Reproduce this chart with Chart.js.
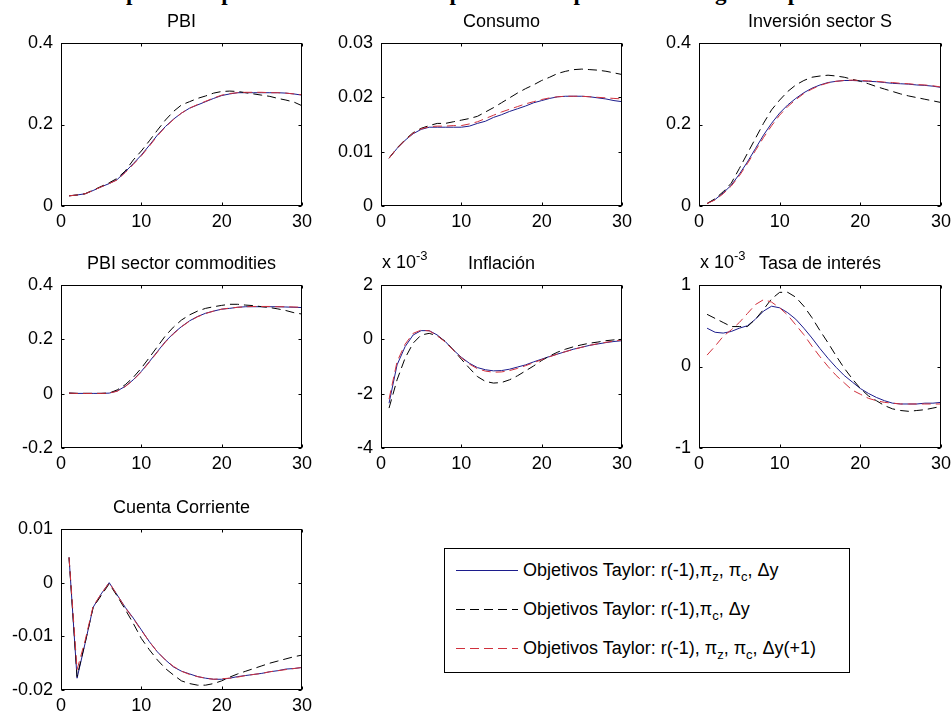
<!DOCTYPE html>
<html lang="es">
<head>
<meta charset="UTF-8">
<title>Respuesta impulso: reglas de Taylor</title>
<script src="https://cdn.jsdelivr.net/npm/chart.js"></script>
<style>
  body {
    margin: 0;
    width: 951px;
    height: 718px;
    overflow: hidden;
    background: #fff;
    position: relative;
    font-family: 'Liberation Sans', Arial, sans-serif;
  }
  canvas { position: absolute; }
  #supertitulo {
    position: absolute;
    left: 0;
    top: -20px;
    width: 951px;
    text-align: center;
    font: bold 23px/26px 'Liberation Serif', 'Times New Roman', serif;
    white-space: nowrap;
  }
  #leyenda {
    position: absolute;
    left: 444px;
    top: 548px;
    width: 406px;
    height: 125px;
    box-sizing: border-box;
    border: 1px solid #000;
    background: #fff;
  }
  .fila {
    position: absolute;
    left: 10px;
    height: 24px;
    font-size: 18px;
    line-height: 24px;
    white-space: nowrap;
  }
  .fila svg { position: absolute; left: 0; top: 7px; }
  .fila span { position: absolute; left: 68px; top: 0; }
  .fila sub { font-size: 13px; vertical-align: -5px; line-height: 0; }
</style>
</head>
<body>
<div id="supertitulo">Respuesta impulso ante un shock de precios: comparación de reglas de política</div>
<div id="leyenda"></div>

<script>
// periodos (eje x) y ticks del eje x
const periodos = [1,2,3,4,5,6,7,8,9,10,11,12,13,14,15,16,17,18,19,20,21,22,23,24,25,26,27,28,29,30];
const ticksX = [0, 10, 20, 30];

// series: 1 = r(-1),pi_z,pi_c,dy (azul) ; 2 = r(-1),pi_c,dy (negra) ; 3 = r(-1),pi_z,pi_c,dy(+1) (roja)
const pbi1 = [0.025,0.027,0.030,0.038,0.047,0.055,0.065,0.084,0.104,0.125,0.149,0.174,0.195,0.213,0.228,0.240,0.248,0.256,0.264,0.271,0.275,0.278,0.278,0.278,0.278,0.278,0.278,0.277,0.275,0.272];
const pbi2 = [0.025,0.027,0.030,0.039,0.048,0.057,0.068,0.086,0.113,0.135,0.160,0.186,0.211,0.232,0.248,0.256,0.264,0.270,0.277,0.281,0.282,0.281,0.278,0.275,0.272,0.269,0.264,0.260,0.255,0.246];
const pbi3 = [0.025,0.027,0.030,0.038,0.047,0.055,0.064,0.082,0.102,0.123,0.147,0.172,0.194,0.212,0.228,0.240,0.249,0.257,0.265,0.272,0.276,0.278,0.279,0.279,0.279,0.278,0.278,0.277,0.275,0.273];

const consumo1 = [0.0088,0.0106,0.0121,0.0133,0.0141,0.0145,0.0145,0.0145,0.0145,0.0145,0.0147,0.0152,0.0156,0.0163,0.0168,0.0174,0.0179,0.0184,0.0190,0.0194,0.0198,0.0201,0.0202,0.0202,0.0202,0.0201,0.0199,0.0197,0.0194,0.0192];
const consumo2 = [0.0088,0.0107,0.0122,0.0135,0.0143,0.0148,0.0152,0.0152,0.0155,0.0158,0.0161,0.0165,0.0173,0.0181,0.0190,0.0199,0.0208,0.0216,0.0223,0.0231,0.0237,0.0244,0.0248,0.0251,0.0252,0.0251,0.0250,0.0248,0.0245,0.0242];
const consumo3 = [0.0088,0.0106,0.0121,0.0134,0.0142,0.0146,0.0147,0.0147,0.0148,0.0148,0.0151,0.0155,0.0161,0.0167,0.0173,0.0178,0.0183,0.0188,0.0192,0.0196,0.0199,0.0201,0.0202,0.0202,0.0202,0.0201,0.0200,0.0199,0.0198,0.0197];

const inversion1 = [0.006,0.016,0.032,0.051,0.078,0.108,0.141,0.174,0.203,0.228,0.248,0.264,0.278,0.289,0.297,0.303,0.306,0.308,0.308,0.307,0.306,0.305,0.303,0.301,0.300,0.299,0.297,0.296,0.294,0.291];
const inversion2 = [0.006,0.018,0.035,0.056,0.092,0.129,0.166,0.203,0.236,0.260,0.281,0.297,0.308,0.316,0.319,0.321,0.319,0.316,0.311,0.306,0.300,0.293,0.287,0.281,0.275,0.270,0.266,0.262,0.258,0.254];
const inversion3 = [0.006,0.015,0.030,0.049,0.074,0.104,0.136,0.168,0.197,0.223,0.244,0.261,0.276,0.287,0.296,0.302,0.306,0.308,0.309,0.308,0.307,0.306,0.304,0.303,0.301,0.300,0.298,0.297,0.295,0.292];

const commod1 = [0.002,0.001,0.001,0.001,0.001,0.002,0.010,0.027,0.051,0.082,0.118,0.155,0.192,0.222,0.247,0.268,0.284,0.296,0.304,0.311,0.314,0.318,0.320,0.320,0.320,0.320,0.320,0.319,0.318,0.317];
const commod2 = [0.002,0.001,0.001,0.001,0.001,0.002,0.014,0.033,0.060,0.094,0.133,0.173,0.213,0.245,0.271,0.290,0.304,0.314,0.320,0.325,0.329,0.329,0.326,0.324,0.320,0.317,0.312,0.306,0.298,0.293];
const commod3 = [0.002,0.001,0.001,0.001,0.001,0.002,0.009,0.026,0.050,0.080,0.116,0.153,0.190,0.220,0.246,0.267,0.283,0.295,0.304,0.311,0.315,0.318,0.320,0.321,0.321,0.321,0.320,0.320,0.319,0.318];

// inflación y tasa de interés en unidades de 10^-3
const inflacion1 = [-2.35,-0.94,-0.27,0.16,0.32,0.32,0.16,-0.08,-0.39,-0.66,-0.88,-1.04,-1.12,-1.16,-1.15,-1.10,-1.02,-0.94,-0.83,-0.73,-0.63,-0.54,-0.45,-0.36,-0.29,-0.22,-0.17,-0.12,-0.08,-0.05];
const inflacion2 = [-2.53,-1.49,-0.69,-0.14,0.16,0.22,0.13,-0.08,-0.39,-0.73,-1.06,-1.37,-1.55,-1.61,-1.59,-1.49,-1.34,-1.16,-0.98,-0.78,-0.61,-0.47,-0.36,-0.27,-0.20,-0.14,-0.10,-0.05,-0.02,0.00];
const inflacion3 = [-2.20,-0.82,-0.18,0.22,0.34,0.31,0.14,-0.10,-0.40,-0.68,-0.91,-1.08,-1.17,-1.21,-1.20,-1.15,-1.07,-0.97,-0.86,-0.75,-0.64,-0.54,-0.45,-0.37,-0.29,-0.22,-0.16,-0.11,-0.06,-0.02];

const tasa1 = [0.47,0.42,0.41,0.43,0.47,0.50,0.58,0.68,0.74,0.72,0.66,0.58,0.47,0.35,0.22,0.10,-0.01,-0.11,-0.19,-0.27,-0.33,-0.38,-0.42,-0.45,-0.46,-0.46,-0.46,-0.45,-0.45,-0.44];
const tasa2 = [0.64,0.59,0.54,0.49,0.49,0.49,0.58,0.70,0.83,0.91,0.91,0.85,0.74,0.60,0.44,0.29,0.13,-0.02,-0.15,-0.27,-0.36,-0.42,-0.48,-0.52,-0.54,-0.55,-0.54,-0.53,-0.51,-0.49];
const tasa3 = [0.14,0.25,0.37,0.45,0.54,0.65,0.76,0.82,0.79,0.72,0.63,0.51,0.39,0.25,0.12,0.00,-0.11,-0.20,-0.29,-0.34,-0.39,-0.42,-0.44,-0.45,-0.46,-0.46,-0.46,-0.46,-0.46,-0.46];

const cuenta1 = [0.0047,-0.0178,-0.0113,-0.0046,-0.0021,0.0000,-0.0023,-0.0046,-0.0066,-0.0088,-0.0110,-0.0129,-0.0144,-0.0157,-0.0165,-0.0170,-0.0175,-0.0178,-0.0180,-0.0180,-0.0178,-0.0175,-0.0173,-0.0171,-0.0169,-0.0166,-0.0164,-0.0161,-0.0160,-0.0158];
const cuenta2 = [0.0047,-0.0175,-0.0112,-0.0046,-0.0024,-0.0002,-0.0025,-0.0050,-0.0076,-0.0104,-0.0125,-0.0144,-0.0160,-0.0172,-0.0183,-0.0188,-0.0191,-0.0191,-0.0188,-0.0183,-0.0176,-0.0170,-0.0165,-0.0160,-0.0155,-0.0150,-0.0146,-0.0142,-0.0138,-0.0135];
const cuenta3 = [0.0047,-0.0162,-0.0108,-0.0044,-0.0021,0.0000,-0.0023,-0.0047,-0.0067,-0.0089,-0.0110,-0.0129,-0.0144,-0.0156,-0.0165,-0.0171,-0.0175,-0.0178,-0.0180,-0.0179,-0.0178,-0.0176,-0.0173,-0.0171,-0.0169,-0.0166,-0.0164,-0.0162,-0.0160,-0.0158];

// nombres y estilos de las series
const nombresSeries = [
  'Objetivos Taylor: r(-1),π<sub>z</sub>, π<sub>c</sub>, Δy',
  'Objetivos Taylor: r(-1),π<sub>c</sub>, Δy',
  'Objetivos Taylor: r(-1), π<sub>z</sub>, π<sub>c</sub>, Δy(+1)'
];
const coloresSeries = ['#1c1c8c', '#000000', '#d0303c'];
const trazosSeries = [[], [9, 5], [9, 5]];

// paneles: titulo, series, rango y del eje
const paneles = [
  { titulo: 'PBI', series: [pbi1, pbi2, pbi3], min: 0, max: 0.4, paso: 0.2, caja: [61, 43, 303, 206] },
  { titulo: 'Consumo', series: [consumo1, consumo2, consumo3], min: 0, max: 0.03, paso: 0.01, caja: [381, 43, 623, 206] },
  { titulo: 'Inversión sector S', series: [inversion1, inversion2, inversion3], min: 0, max: 0.4, paso: 0.2, caja: [699, 43, 942, 206] },
  { titulo: 'PBI sector commodities', series: [commod1, commod2, commod3], min: -0.2, max: 0.4, paso: 0.2, caja: [61, 285, 303, 448] },
  { titulo: 'Inflación', series: [inflacion1, inflacion2, inflacion3], min: -4, max: 2, paso: 2, caja: [381, 285, 623, 448], exponente: '-3' },
  { titulo: 'Tasa de interés', series: [tasa1, tasa2, tasa3], min: -1, max: 1, paso: 1, caja: [699, 285, 942, 448], exponente: '-3' },
  { titulo: 'Cuenta Corriente', series: [cuenta1, cuenta2, cuenta3], min: -0.02, max: 0.01, paso: 0.01, caja: [61, 529, 303, 690] }
];

const fuente = "'Liberation Sans', Arial, sans-serif";
const margenIzq = 64, margenSup = 34, margenDer = 14, margenInf = 32;

// marco de ejes estilo matlab: caja completa, ticks hacia adentro, titulo y exponente
const marcoMatlab = {
  id: 'marcoMatlab',
  afterDraw(chart, args, opts) {
    const ctx = chart.ctx;
    const a = chart.chartArea;
    const sx = chart.scales.x, sy = chart.scales.y;
    const L = Math.round(a.left) + 0.5, R = Math.round(a.right) - 0.5;
    const T = Math.round(a.top) + 0.5, B = Math.round(a.bottom) - 0.5;
    ctx.save();
    ctx.strokeStyle = '#000';
    ctx.lineWidth = 1;
    ctx.strokeRect(L, T, R - L, B - T);
    ctx.beginPath();
    sx.ticks.forEach(t => {
      const px = Math.round(sx.getPixelForValue(t.value)) + 0.5;
      ctx.moveTo(px, B); ctx.lineTo(px, B - 3);
      ctx.moveTo(px, T); ctx.lineTo(px, T + 3);
    });
    sy.ticks.forEach(t => {
      const py = Math.round(sy.getPixelForValue(t.value)) + 0.5;
      ctx.moveTo(L, py); ctx.lineTo(L + 3, py);
      ctx.moveTo(R, py); ctx.lineTo(R - 3, py);
    });
    ctx.stroke();

    ctx.fillStyle = '#000';
    ctx.textBaseline = 'alphabetic';
    ctx.font = '18px ' + fuente;
    ctx.textAlign = 'center';
    ctx.fillText(opts.titulo, (a.left + a.right) / 2, a.top - 16);
    if (opts.exponente) {
      ctx.textAlign = 'left';
      const base = 'x 10';
      ctx.fillText(base, a.left + 1, a.top - 17);
      const w = ctx.measureText(base).width;
      ctx.font = '13px ' + fuente;
      ctx.fillText(opts.exponente, a.left + 1 + w, a.top - 25);
    }
    ctx.restore();
  }
};

function formatoTick(v) {
  return String(+v.toFixed(4));
}

paneles.forEach((p, k) => {
  const [l, t, r, b] = p.caja;
  const canvas = document.createElement('canvas');
  canvas.width = (r - l) + margenIzq + margenDer;
  canvas.height = (b - t) + margenSup + margenInf;
  canvas.style.left = (l - margenIzq) + 'px';
  canvas.style.top = (t - margenSup) + 'px';
  document.body.appendChild(canvas);

  const datasets = p.series.map((serie, i) => ({
    label: nombresSeries[i],
    data: serie.map((v, j) => ({ x: periodos[j], y: v })),
    borderColor: coloresSeries[i],
    borderDash: trazosSeries[i],
    borderWidth: 1,
    pointRadius: 0,
    fill: false,
    tension: 0,
    order: 3 - i
  }));

  new Chart(canvas, {
    type: 'line',
    data: { datasets: datasets },
    options: {
      responsive: false,
      animation: false,
      layout: { padding: { top: margenSup, right: margenDer, left: 0, bottom: 0 } },
      plugins: {
        legend: { display: false },
        tooltip: { enabled: false },
        marcoMatlab: { titulo: p.titulo, exponente: p.exponente }
      },
      scales: {
        x: {
          type: 'linear',
          min: 0, max: 30,
          afterBuildTicks: s => { s.ticks = ticksX.map(v => ({ value: v })); },
          afterFit: s => { s.height = margenInf; },
          grid: { display: false, drawTicks: false },
          border: { display: false },
          ticks: { color: '#000', padding: 5, maxRotation: 0, font: { family: fuente, size: 18 } }
        },
        y: {
          min: p.min, max: p.max,
          afterFit: s => { s.width = margenIzq; },
          grid: { display: false, drawTicks: false },
          border: { display: false },
          ticks: { color: '#000', padding: 8, stepSize: p.paso, callback: formatoTick, font: { family: fuente, size: 18 } }
        }
      }
    },
    plugins: [marcoMatlab]
  });
});

// leyenda construida con los mismos nombres y estilos
const leyenda = document.getElementById('leyenda');
nombresSeries.forEach((nombre, i) => {
  const fila = document.createElement('div');
  fila.className = 'fila';
  fila.style.top = (9 + i * 39) + 'px';
  const dash = trazosSeries[i].length ? trazosSeries[i].join(' ') : 'none';
  fila.innerHTML =
    '<svg width="64" height="10"><line x1="1" y1="5.5" x2="63" y2="5.5" stroke="' + coloresSeries[i] +
    '" stroke-width="1" stroke-dasharray="' + dash + '"/></svg><span>' + nombre + '</span>';
  leyenda.appendChild(fila);
});
</script>
</body>
</html>
